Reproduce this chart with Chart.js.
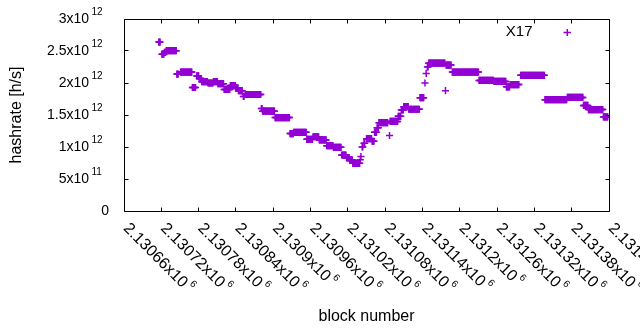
<!DOCTYPE html>
<html>
<head>
<meta charset="utf-8">
<script src="https://cdn.jsdelivr.net/npm/chart.js@4/dist/chart.umd.min.js"></script>
<style>
  html, body { margin: 0; padding: 0; background: #fff; }
</style>
</head>
<body>
<canvas id="hashChart" width="640" height="330"></canvas>
<script>
// runs of consecutive blocks sharing the same hashrate estimate
const runStart = [
  2130716, 2130721, 2130725, 2130728, 2130745, 2130751, 2130770, 2130777, 2130781, 2130785,
  2130795, 2130804, 2130811, 2130821, 2130831, 2130840, 2130844, 2130852, 2130855, 2130881,
  2130883, 2130903, 2130927, 2130933, 2130954, 2130964, 2130974, 2130986, 2130997, 2131010,
  2131018, 2131023, 2131028, 2131040, 2131041, 2131043, 2131046, 2131050, 2131059, 2131063,
  2131067, 2131070, 2131087, 2131088, 2131101, 2131106, 2131110, 2131118, 2131136, 2131144,
  2131146, 2131148, 2131150, 2131177, 2131178, 2131188, 2131231, 2131255, 2131275, 2131281,
  2131298, 2131337, 2131373, 2131399, 2131407, 2131431
];
const runEnd = [
  2130718, 2130724, 2130727, 2130744, 2130747, 2130769, 2130775, 2130780, 2130784, 2130794,
  2130803, 2130810, 2130820, 2130830, 2130839, 2130843, 2130850, 2130853, 2130880, 2130882,
  2130902, 2130926, 2130932, 2130953, 2130963, 2130973, 2130985, 2130996, 2131009, 2131017,
  2131022, 2131027, 2131039, 2131040, 2131041, 2131044, 2131047, 2131058, 2131062, 2131066,
  2131069, 2131084, 2131087, 2131100, 2131105, 2131109, 2131117, 2131135, 2131142, 2131144,
  2131146, 2131149, 2131176, 2131177, 2131186, 2131230, 2131254, 2131274, 2131280, 2131295,
  2131336, 2131372, 2131398, 2131406, 2131430, 2131438
];
const runHashrate = [
  2.64e12, 2.45e12, 2.48e12, 2.505e12, 2.14e12, 2.17e12, 1.93e12, 2.11e12, 2.07e12, 2.02e12,
  2.00e12, 2.02e12, 1.99e12, 1.90e12, 1.96e12, 1.92e12, 1.88e12, 1.79e12, 1.82e12, 1.60e12,
  1.56e12, 1.46e12, 1.21e12, 1.23e12, 1.12e12, 1.16e12, 1.11e12, 1.02e12, 0.995e12, 0.875e12,
  0.83e12, 0.80e12, 0.745e12, 0.80e12, 0.85e12, 1.00e12, 1.06e12, 1.13e12, 1.09e12, 1.23e12,
  1.30e12, 1.38e12, 1.18e12, 1.40e12, 1.48e12, 1.58e12, 1.63e12, 1.59e12, 1.77e12, 2.00e12,
  2.15e12, 2.25e12, 2.31e12, 1.88e12, 2.28e12, 2.17e12, 2.04e12, 2.025e12, 1.94e12, 1.975e12,
  2.12e12, 1.74e12, 1.775e12, 1.65e12, 1.585e12, 1.47e12
];

const xTickValues = [2130660, 2130720, 2130780, 2130840, 2130900, 2130960, 2131020,
  2131080, 2131140, 2131200, 2131260, 2131320, 2131380, 2131440];
const xTickText = ["2.13066x10", "2.13072x10", "2.13078x10", "2.13084x10", "2.1309x10",
  "2.13096x10", "2.13102x10", "2.13108x10", "2.13114x10", "2.1312x10", "2.13126x10",
  "2.13132x10", "2.13138x10", "2.13144x10"];
const xTickSup = ["6", "6", "6", "6", "6", "6", "6", "6", "6", "6", "6", "6", "6", "6"];

const yTickValues = [0, 0.5e12, 1e12, 1.5e12, 2e12, 2.5e12, 3e12];
const yTickText = ["0", "5x10", "1x10", "1.5x10", "2x10", "2.5x10", "3x10"];
const yTickSup = ["", "11", "12", "12", "12", "12", "12"];

const seriesName = "X17";
const purple = "#9400d3";
const fontFamily = "'Liberation Sans', Arial, sans-serif";

// one point per block inside each run
const points = [];
for (let i = 0; i < runStart.length; i++) {
  for (let b = runStart[i]; b <= runEnd[i]; b++) {
    points.push({ x: b, y: runHashrate[i] });
  }
}

// gnuplot-like frame: border box, inward ticks on all sides, tick labels with exponents, key
const gnuplotFrame = {
  id: "gnuplotFrame",
  afterDraw(chart) {
    const { ctx, chartArea: a, scales } = chart;
    const xs = scales.x, ys = scales.y;
    const L = Math.floor(a.left) + 0.5, R = Math.floor(a.right) + 0.5;
    const T = Math.floor(a.top) + 0.5, B = Math.floor(a.bottom) + 0.5;
    const tl = 4;
    ctx.save();
    ctx.strokeStyle = "#000";
    ctx.lineWidth = 1;
    ctx.beginPath();
    ctx.rect(L, T, R - L, B - T);
    yTickValues.forEach((v) => {
      const py = Math.floor(ys.getPixelForValue(v)) + 0.5;
      ctx.moveTo(L, py); ctx.lineTo(L + tl, py);
      ctx.moveTo(R, py); ctx.lineTo(R - tl, py);
    });
    xTickValues.forEach((v) => {
      const px = Math.floor(xs.getPixelForValue(v)) + 0.5;
      ctx.moveTo(px, B); ctx.lineTo(px, B - tl);
      ctx.moveTo(px, T); ctx.lineTo(px, T + tl);
    });
    ctx.stroke();

    ctx.fillStyle = "#000";
    // y tick labels
    yTickValues.forEach((v, i) => {
      const py = ys.getPixelForValue(v);
      ctx.textBaseline = "middle";
      ctx.font = "14px " + fontFamily;
      if (yTickSup[i]) {
        ctx.textAlign = "right";
        ctx.fillText(yTickText[i], a.left - 35, py);
        ctx.textAlign = "left";
        ctx.font = "10px " + fontFamily;
        ctx.fillText(yTickSup[i], a.left - 32.5, py - 6.5);
      } else {
        ctx.textAlign = "right";
        ctx.fillText(yTickText[i], a.left - 15, py);
      }
    });

    // x tick labels, rotated by -45 deg (gnuplot sense), starting at the tick
    xTickValues.forEach((v, i) => {
      const px = xs.getPixelForValue(v);
      ctx.save();
      ctx.translate(px + 1.8, a.bottom + 15);
      ctx.rotate(Math.PI / 4);
      ctx.textAlign = "left";
      ctx.textBaseline = "middle";
      ctx.font = "16px " + fontFamily;
      ctx.fillText(xTickText[i], 0, 0);
      const w = ctx.measureText(xTickText[i]).width;
      ctx.font = "10px " + fontFamily;
      ctx.fillText(xTickSup[i], w + 2.4, -6.5);
      ctx.restore();
    });

    // key
    ctx.font = "15px " + fontFamily;
    ctx.textAlign = "right";
    ctx.textBaseline = "middle";
    ctx.fillText(seriesName, 532.5, 32);
    ctx.strokeStyle = purple;
    ctx.lineWidth = 1.5;
    ctx.beginPath();
    ctx.moveTo(563.5, 32.5); ctx.lineTo(571, 32.5);
    ctx.moveTo(567.3, 29); ctx.lineTo(567.3, 36);
    ctx.stroke();
    ctx.restore();
  }
};

const ctx = document.getElementById("hashChart").getContext("2d");
new Chart(ctx, {
  type: "scatter",
  data: {
    datasets: [{
      label: seriesName,
      data: points,
      pointStyle: "cross",
      pointRadius: 3.6,
      pointBorderWidth: 1.5,
      borderColor: purple,
      backgroundColor: purple,
      showLine: false
    }]
  },
  options: {
    responsive: false,
    animation: false,
    layout: { padding: { left: 0, right: 31, top: 19, bottom: 0 } },
    plugins: {
      legend: { display: false },
      tooltip: { enabled: false }
    },
    scales: {
      x: {
        type: "linear",
        min: 2130660,
        max: 2131440,
        afterBuildTicks: (s) => { s.ticks = xTickValues.map((v) => ({ value: v })); },
        afterFit: (s) => { s.height = 119; },
        ticks: { display: false },
        grid: { display: false },
        border: { display: false },
        title: {
          display: true,
          text: "block number",
          color: "#000",
          font: { family: fontFamily, size: 16 },
          padding: { top: 0, bottom: 4 }
        }
      },
      y: {
        type: "linear",
        min: 0,
        max: 3e12,
        afterBuildTicks: (s) => { s.ticks = yTickValues.map((v) => ({ value: v })); },
        afterFit: (s) => { s.width = 124; },
        ticks: { display: false },
        grid: { display: false },
        border: { display: false },
        title: {
          display: true,
          text: "hashrate [h/s]",
          color: "#000",
          font: { family: fontFamily, size: 16 },
          padding: { top: 7, bottom: 0 }
        }
      }
    }
  },
  plugins: [gnuplotFrame]
});
</script>
</body>
</html>
